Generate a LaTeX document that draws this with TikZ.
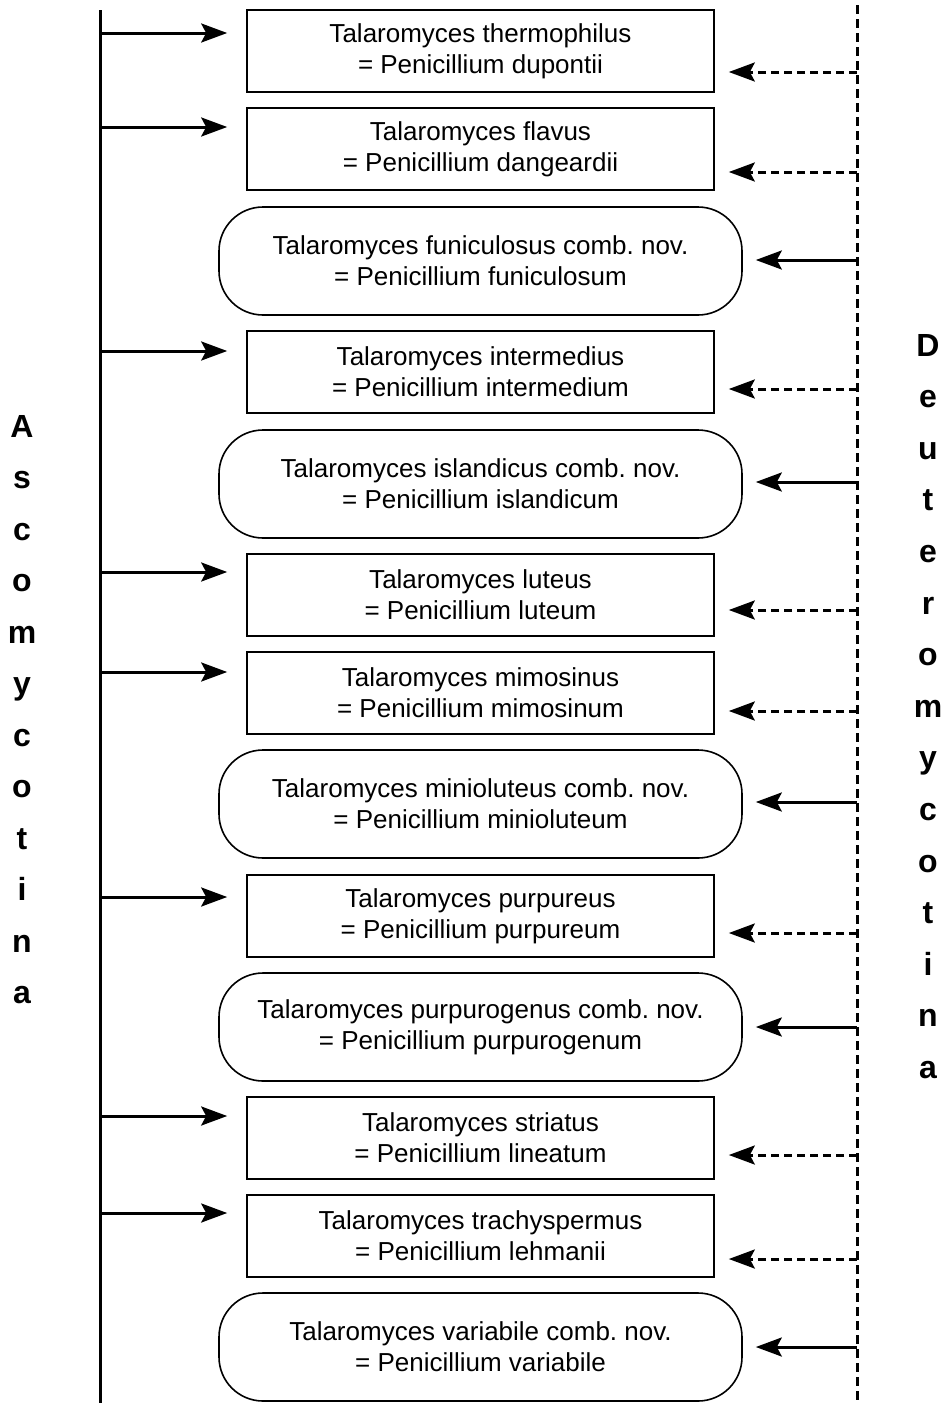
\documentclass[tikz,border=0pt]{standalone}
\usepackage{fontspec}
\setmainfont{Liberation Sans}
\usepackage{tikz}
\usetikzlibrary{positioning,arrows.meta}
\frenchspacing

\begin{document}
\begin{tikzpicture}[x=1pt,y=-1pt,
  spbox/.style={draw,line width=1.6pt,minimum width=467pt,minimum height=82pt,inner sep=0pt,align=center,font=\fontsize{26}{31}\selectfont},
  combbox/.style={spbox,minimum width=523pt,minimum height=108pt,rounded corners=44pt},
  link/.style={line width=3pt,-{Stealth[length=26pt,width=19pt,inset=5pt]}},
  ascolink/.style={link,shorten >=19pt},
  deutlink/.style={link,shorten >=14pt,dash pattern=on 8pt off 5pt},
  combline/.style={link,shorten >=13pt},
  letter/.style={anchor=base,inner sep=0pt,font=\fontsize{32}{32}\selectfont\bfseries}]
\useasboundingbox (0,0) rectangle (945,1403);

\node[spbox] (thermophilus) at (480.5,51) {Talaromyces thermophilus\\= Penicillium dupontii};
\node[spbox] (flavus) at (480.5,149) {Talaromyces flavus\\= Penicillium dangeardii};
\node[combbox] (funiculosus) at (480.5,261) {Talaromyces funiculosus comb. nov.\\= Penicillium funiculosum};
\node[spbox] (intermedius) at (480.5,372) {Talaromyces intermedius\\= Penicillium intermedium};
\node[combbox] (islandicus) at (480.5,484) {Talaromyces islandicus comb. nov.\\= Penicillium islandicum};
\node[spbox] (luteus) at (480.5,595) {Talaromyces luteus\\= Penicillium luteum};
\node[spbox] (mimosinus) at (480.5,693) {Talaromyces mimosinus\\= Penicillium mimosinum};
\node[combbox] (minioluteus) at (480.5,804) {Talaromyces minioluteus comb. nov.\\= Penicillium minioluteum};
\node[spbox] (purpureus) at (480.5,916) {Talaromyces purpureus\\= Penicillium purpureum};
\node[combbox] (purpurogenus) at (480.5,1027) {Talaromyces purpurogenus comb. nov.\\= Penicillium purpurogenum};
\node[spbox] (striatus) at (480.5,1138) {Talaromyces striatus\\= Penicillium lineatum};
\node[spbox] (trachyspermus) at (480.5,1236) {Talaromyces trachyspermus\\= Penicillium lehmanii};
\node[combbox] (variabile) at (480.5,1347) {Talaromyces variabile comb. nov.\\= Penicillium variabile};

\coordinate (asco top) at (100,10);
\coordinate (asco bot) at (100,1403);
\coordinate (deut top) at (857,5);
\coordinate (deut bot) at (857,1403);
\draw[line width=3pt] (asco top)--(asco bot);
\draw[line width=3pt,dash pattern=on 9pt off 5pt] (deut top)--(deut bot);

\coordinate (a1) at (100,33);
\coordinate (a2) at (100,127);
\coordinate (a4) at (100,351);
\coordinate (a6) at (100,572);
\coordinate (a7) at (100,672);
\coordinate (a9) at (100,897);
\coordinate (a11) at (100,1116);
\coordinate (a12) at (100,1213);
\draw[ascolink] (a1)--(a1 -| thermophilus.west);
\draw[ascolink] (a2)--(a2 -| flavus.west);
\draw[ascolink] (a4)--(a4 -| intermedius.west);
\draw[ascolink] (a6)--(a6 -| luteus.west);
\draw[ascolink] (a7)--(a7 -| mimosinus.west);
\draw[ascolink] (a9)--(a9 -| purpureus.west);
\draw[ascolink] (a11)--(a11 -| striatus.west);
\draw[ascolink] (a12)--(a12 -| trachyspermus.west);

\coordinate (d1) at (857,72);
\coordinate (d2) at (857,172);
\coordinate (d3) at (857,260);
\coordinate (d4) at (857,389);
\coordinate (d5) at (857,482);
\coordinate (d6) at (857,610);
\coordinate (d7) at (857,711);
\coordinate (d8) at (857,802);
\coordinate (d9) at (857,933);
\coordinate (d10) at (857,1027);
\coordinate (d11) at (857,1155);
\coordinate (d12) at (857,1259);
\coordinate (d13) at (857,1347);
\draw[deutlink] (d1)--(d1 -| thermophilus.east);
\draw[deutlink] (d2)--(d2 -| flavus.east);
\draw[combline] (d3)--(d3 -| funiculosus.east);
\draw[deutlink] (d4)--(d4 -| intermedius.east);
\draw[combline] (d5)--(d5 -| islandicus.east);
\draw[deutlink] (d6)--(d6 -| luteus.east);
\draw[deutlink] (d7)--(d7 -| mimosinus.east);
\draw[combline] (d8)--(d8 -| minioluteus.east);
\draw[deutlink] (d9)--(d9 -| purpureus.east);
\draw[combline] (d10)--(d10 -| purpurogenus.east);
\draw[deutlink] (d11)--(d11 -| striatus.east);
\draw[deutlink] (d12)--(d12 -| trachyspermus.east);
\draw[combline] (d13)--(d13 -| variabile.east);

\foreach \ch [count=\k] in {A,s,c,o,m,y,c,o,t,i,n,a}
  \node[letter] (asco\k) at (22,{437+51.5*(\k-1)}) {\ch};
\foreach \ch [count=\k] in {D,e,u,t,e,r,o,m,y,c,o,t,i,n,a}
  \node[letter] (deut\k) at (928,{356+51.6*(\k-1)}) {\ch};
\end{tikzpicture}
\end{document}
